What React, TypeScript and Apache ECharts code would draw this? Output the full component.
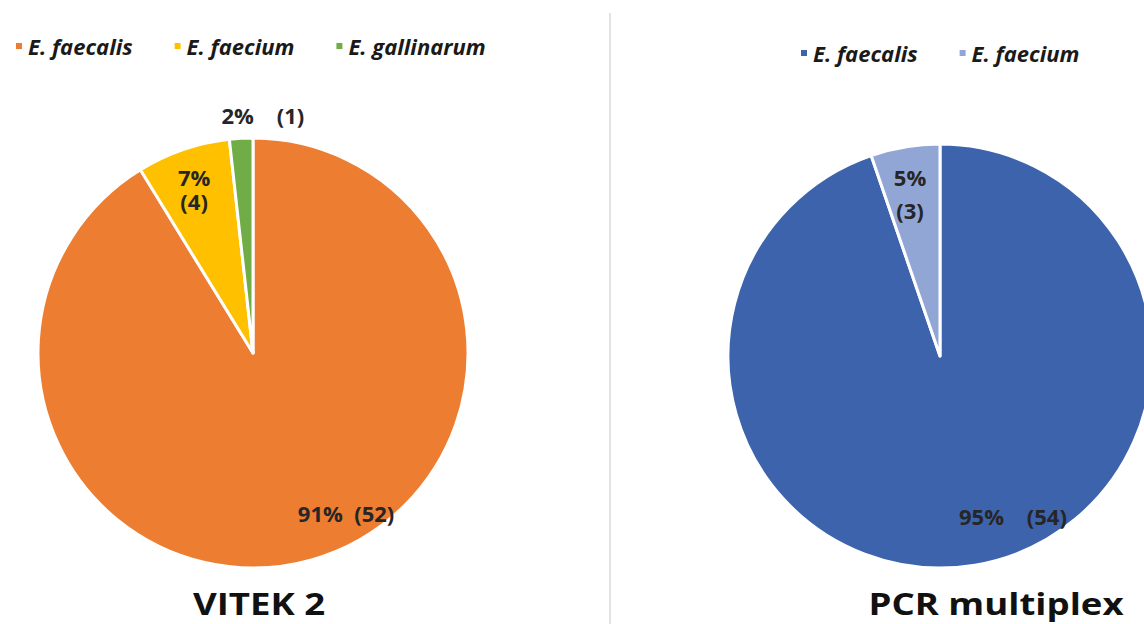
import React, { useEffect, useRef } from "react";
import * as echarts from "echarts";

const species = ["E. faecalis", "E. faecium", "E. gallinarum"];
const vitekCounts = [52, 4, 1];
const pcrSpecies = ["E. faecalis", "E. faecium"];
const pcrCounts = [54, 3];
const vitekColors = ["#ED7D31", "#FFC000", "#70AD47"];
const pcrColors = ["#3D63AC", "#92A6D6"];
const titles = ["VITEK 2", "PCR multiplex"];

const FONT = "'Open Sans', 'Noto Sans', sans-serif";

export default function App() {
  const ref = useRef<HTMLDivElement>(null);
  useEffect(() => {
    document.body.style.margin = "0";
    const chart = echarts.init(ref.current!, undefined, { renderer: "svg" });

    const vitekTotal = vitekCounts.reduce((a, b) => a + b, 0);
    const pcrTotal = pcrCounts.reduce((a, b) => a + b, 0);
    const pct = (v: number, t: number) => Math.round((v / t) * 100) + "%";

    const vitekLabels = vitekCounts.map((v, i) => {
      const p = pct(v, vitekTotal);
      if (i === 0) return `${p}  (${v})`;
      if (i === 1) return `${p}\n(${v})`;
      return `${p}    (${v})`;
    });
    const pcrLabels = pcrCounts.map((v, i) => {
      const p = pct(v, pcrTotal);
      if (i === 0) return `${p}    (${v})`;
      return `${p}\n(${v})`;
    });

    const vitekOffsets = [
      [63, 54],
      [-23, -59],
      [16, -128],
    ];
    const pcrOffsets = [
      [55, 52],
      [-12, -55],
    ];
    const labelStyle = {
      show: true,
      position: "inside",
      color: "#262626",
      fontFamily: FONT,
      fontWeight: "bold",
      fontSize: 22,
    };
    const legendText = {
      fontFamily: FONT,
      fontStyle: "italic",
      fontWeight: "bold",
      fontSize: 22,
      color: "#1a1a1a",
    };

    const titleText = (i: number, x: number) => ({
      type: "text",
      x,
      y: 603,
      scaleX: 1.18,
      style: {
        text: titles[i],
        x: 0,
        y: 0,
        align: "center",
        verticalAlign: "middle",
        fontFamily: FONT,
        fontWeight: "bold",
        fontSize: 31,
        lineHeight: 30,
        fill: "#111",
      },
    });

    chart.setOption({
      animation: false,
      legend: [
        {
          left: 9,
          top: 30,
          icon: "rect",
          itemWidth: 8,
          itemHeight: 8,
          itemGap: 40,
          data: species.map((n, i) => ({ name: n, itemStyle: { color: vitekColors[i] } })),
          textStyle: legendText,
          selectedMode: false,
        },
        {
          left: 794,
          top: 37,
          icon: "rect",
          itemWidth: 8,
          itemHeight: 8,
          itemGap: 40,
          data: pcrSpecies.map((n, i) => ({ name: n, itemStyle: { color: pcrColors[i] } })),
          textStyle: legendText,
          selectedMode: false,
        },
      ],
      series: [
        {
          type: "pie",
          center: [253, 353],
          radius: [0, 215],
          startAngle: 90,
          clockwise: true,
          avoidLabelOverlap: false,
          itemStyle: { borderColor: "#fff", borderWidth: 3 },
          label: labelStyle,
          labelLine: { show: false },
          labelLayout: (p: any) => ({ dx: vitekOffsets[p.dataIndex][0], dy: vitekOffsets[p.dataIndex][1] }),
          emphasis: { disabled: true },
          data: species.map((n, i) => ({
            name: n,
            value: vitekCounts[i],
            itemStyle: { color: vitekColors[i] },
            label: { formatter: vitekLabels[i], lineHeight: 24 },
          })),
        },
        {
          type: "pie",
          center: [940, 356],
          radius: [0, 212],
          startAngle: 90,
          clockwise: true,
          avoidLabelOverlap: false,
          itemStyle: { borderColor: "#fff", borderWidth: 3 },
          label: labelStyle,
          labelLine: { show: false },
          labelLayout: (p: any) => ({ dx: pcrOffsets[p.dataIndex][0], dy: pcrOffsets[p.dataIndex][1] }),
          emphasis: { disabled: true },
          data: pcrSpecies.map((n, i) => ({
            name: n,
            value: pcrCounts[i],
            itemStyle: { color: pcrColors[i] },
            label: { formatter: pcrLabels[i], lineHeight: 33 },
          })),
        },
      ],
      graphic: [
        {
          type: "line",
          shape: { x1: 610, y1: 13, x2: 610, y2: 624 },
          style: { stroke: "#d9d9d9", lineWidth: 1.5 },
        },
        titleText(0, 259),
        titleText(1, 996),
      ],
    });
    return () => chart.dispose();
  }, []);
  return <div ref={ref} style={{ width: 1144, height: 624 }} />;
}
